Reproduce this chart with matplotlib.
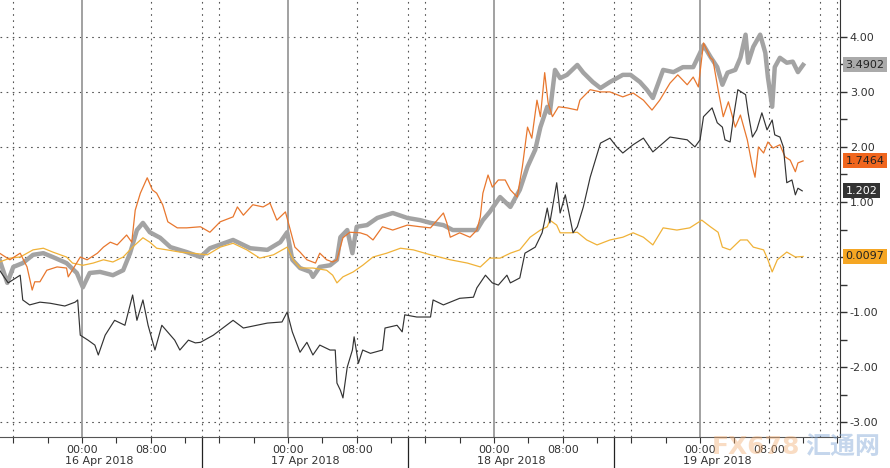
import matplotlib
matplotlib.use("Agg")
import matplotlib.pyplot as plt
import matplotlib.transforms as mtransforms

# hours relative to 16 Apr 2018 00:00, values in %
blk_h = [-9.6, -8.6, -7.2, -6.9, -6.1, -4.9, -3.7, -2.0, -0.8, -0.5, -0.2, 0.7, 1.5, 1.9, 2.7, 3.8,
         5.0, 5.9, 6.4, 7.1, 7.7, 8.5, 9.3, 10.3, 10.8, 11.4, 12.4, 13.2, 13.8, 15.3, 17.6, 18.8,
         21.6, 23.3, 23.9, 24.5, 25.4, 26.2, 26.9, 27.7, 28.9, 29.5, 29.7, 30.1, 30.4, 30.9, 31.5,
         31.7, 32.2, 32.7, 33.6, 35.0, 35.3, 36.7, 37.3, 37.6, 39.0, 40.6, 40.9, 42.1, 44.0, 45.6,
         46.0, 47.0, 47.8, 48.5, 49.5, 49.9, 51.0, 51.6, 52.8, 53.6, 54.2, 54.5, 55.3, 55.7, 56.3,
         56.9, 57.2, 57.7, 58.4, 59.2, 59.8, 60.4, 61.5, 62.3, 63.0, 64.2, 65.4, 66.5, 68.5, 70.5,
         71.4, 72.0, 72.4, 73.4, 74.0, 74.6, 74.9, 75.5, 75.9, 76.4, 77.3, 77.6, 78.1, 78.6, 79.2,
         79.8, 80.4, 80.7, 81.3, 81.7, 82.1, 82.7, 83.1, 83.4, 83.9]
blk_v = [-0.24, -0.47, -0.33, -0.78, -0.87, -0.82, -0.84, -0.89, -0.82, -0.78, -1.42, -1.51, -1.60,
         -1.78, -1.42, -1.15, -1.24, -0.69, -1.15, -0.78, -1.24, -1.69, -1.24, -1.42, -1.51, -1.69,
         -1.51, -1.56, -1.55, -1.42, -1.15, -1.29, -1.20, -1.18, -1.00, -1.36, -1.73, -1.55, -1.78,
         -1.60, -1.69, -1.69, -2.29, -2.42, -2.56, -2.00, -1.69, -1.45, -1.93, -1.69, -1.75, -1.69,
         -1.29, -1.24, -1.36, -1.05, -1.09, -1.09, -0.78, -0.87, -0.75, -0.73, -0.56, -0.33, -0.47,
         -0.51, -0.33, -0.47, -0.38, 0.07, 0.18, 0.44, 0.89, 0.62, 1.35, 0.80, 1.13, 0.67, 0.44,
         0.55, 0.91, 1.45, 1.76, 2.07, 2.16, 2.00, 1.89, 2.04, 2.16, 1.91, 2.18, 2.13, 2.00, 2.13,
         2.55, 2.71, 2.44, 2.36, 2.13, 2.09, 2.55, 3.04, 2.95, 2.62, 2.18, 2.31, 2.62, 2.31, 2.49,
         2.22, 2.18, 2.00, 1.35, 1.40, 1.13, 1.25, 1.202]

gry_h = [-9.6, -8.7, -8.0, -6.9, -5.7, -4.5, -3.4, -1.8, -0.6, 0.1, 0.9, 2.1, 3.6, 4.8, 5.6, 6.4,
         7.1, 7.9, 9.1, 10.3, 12.2, 13.8, 14.9, 17.6, 19.6, 21.6, 23.1, 23.9, 24.5, 25.4, 26.6,
         26.9, 27.7, 28.9, 29.7, 30.1, 30.9, 31.5, 32.0, 33.2, 34.4, 36.2, 37.9, 39.4, 40.6, 42.1,
         43.2, 44.9, 46.0, 46.7, 47.5, 48.7, 49.9, 51.0, 51.9, 52.8, 53.4, 54.2, 54.5, 55.1, 55.7,
         56.5, 57.7, 58.4, 59.5, 60.4, 61.5, 63.0, 63.9, 65.0, 65.8, 66.5, 67.7, 68.9, 70.0, 71.2,
         72.0, 72.4, 73.2, 74.0, 74.6, 75.2, 76.1, 76.7, 77.3, 77.6, 78.2, 79.0, 79.6, 79.9, 80.4,
         80.7, 81.3, 82.1, 82.8, 83.4, 84.0]
gry_v = [-0.05, -0.47, -0.18, -0.11, 0.04, 0.07, 0.00, -0.11, -0.29, -0.55, -0.29, -0.27, -0.33,
         -0.24, 0.07, 0.49, 0.62, 0.45, 0.35, 0.18, 0.09, 0.00, 0.16, 0.31, 0.16, 0.13, 0.27, 0.45,
         -0.05, -0.20, -0.27, -0.36, -0.18, -0.15, -0.05, 0.36, 0.49, 0.07, 0.55, 0.58, 0.71, 0.80,
         0.71, 0.67, 0.62, 0.58, 0.49, 0.49, 0.49, 0.67, 0.82, 1.09, 0.91, 1.22, 1.64, 1.95, 2.36,
         2.73, 2.62, 3.40, 3.25, 3.31, 3.49, 3.35, 3.18, 3.07, 3.18, 3.31, 3.31, 3.18, 3.04, 2.89,
         3.40, 3.36, 3.45, 3.45, 3.71, 3.85, 3.64, 3.45, 3.13, 3.35, 3.40, 3.62, 4.04, 3.53, 3.82,
         4.04, 3.71, 3.27, 2.73, 3.45, 3.62, 3.53, 3.55, 3.36, 3.4902]

org_h = [-9.6, -8.4, -7.2, -6.4, -5.8, -5.5, -4.9, -4.1, -2.9, -1.8, -1.6, -0.2, 0.6, 1.8, 2.5,
         3.3, 4.1, 5.2, 5.8, 6.2, 6.8, 7.6, 8.2, 8.7, 9.4, 10.0, 11.1, 12.2, 13.8, 14.9, 16.1, 17.6,
         18.1, 18.8, 19.9, 21.1, 21.9, 22.7, 23.7, 24.2, 24.8, 25.4, 26.2, 27.2, 27.7, 28.5, 29.2,
         29.7, 30.4, 31.2, 32.4, 33.2, 33.9, 35.0, 36.2, 37.9, 39.4, 40.6, 42.1, 42.5, 42.9, 44.0,
         45.2, 46.0, 46.4, 46.7, 47.3, 47.8, 48.5, 49.3, 49.9, 50.7, 51.3, 51.9, 52.4, 53.0, 53.4,
         53.9, 54.3, 54.8, 55.5, 56.5, 57.7, 58.0, 59.2, 60.4, 61.5, 63.0, 64.2, 65.4, 66.4, 67.3,
         68.5, 69.4, 70.5, 71.2, 71.8, 72.4, 73.2, 73.5, 74.1, 74.7, 75.3, 76.1, 76.7, 77.5, 78.1,
         78.4, 78.8, 79.4, 79.9, 80.5, 81.3, 81.9, 82.5, 83.1, 83.4, 84.0]
org_v = [0.07, -0.05, 0.07, -0.18, -0.60, -0.45, -0.45, -0.24, -0.18, -0.20, -0.36, 0.00, -0.05,
         0.07, 0.18, 0.27, 0.22, 0.40, 0.27, 0.85, 1.16, 1.44, 1.22, 1.16, 0.95, 0.64, 0.53, 0.53,
         0.55, 0.45, 0.64, 0.73, 0.91, 0.76, 0.95, 0.91, 0.98, 0.67, 0.82, 0.53, 0.18, 0.09, -0.05,
         -0.11, 0.07, -0.05, -0.09, -0.05, 0.35, 0.45, 0.44, 0.40, 0.31, 0.55, 0.49, 0.58, 0.55,
         0.53, 0.80, 0.62, 0.36, 0.44, 0.36, 0.49, 0.73, 1.16, 1.49, 1.27, 1.40, 1.40, 1.22, 1.09,
         1.64, 2.36, 2.16, 2.85, 2.55, 3.35, 2.80, 2.55, 2.73, 2.71, 2.67, 2.85, 3.04, 3.00, 3.00,
         2.91, 2.98, 2.85, 2.67, 2.85, 3.16, 3.31, 3.13, 3.27, 3.09, 3.89, 3.62, 3.58, 3.04, 2.55,
         2.82, 2.36, 2.58, 2.13, 1.64, 1.45, 2.00, 1.89, 2.09, 1.98, 2.04, 1.82, 1.76, 1.55, 1.71,
         1.7464]

gld_h = [-9.6, -8.4, -7.2, -5.7, -4.5, -3.4, -1.8, -1.1, 0.1, 1.3, 2.5, 3.6, 4.8, 5.9, 7.1, 7.9,
         8.7, 9.9, 11.4, 12.9, 14.6, 16.1, 17.6, 19.2, 20.7, 22.3, 23.9, 24.6, 25.4, 26.9, 28.5,
         29.2, 29.7, 30.4, 31.6, 32.7, 33.9, 35.5, 37.1, 38.6, 40.6, 42.9, 44.9, 46.4, 47.5, 48.7,
         49.9, 51.0, 52.2, 53.4, 54.2, 54.5, 55.3, 55.7, 56.9, 57.7, 58.8, 60.0, 61.5, 63.0, 64.2,
         65.4, 66.5, 67.7, 69.3, 70.8, 72.2, 73.2, 74.1, 74.6, 75.5, 76.7, 77.5, 78.2, 79.4, 79.9,
         80.4, 81.0, 82.1, 83.1, 84.0]
gld_v = [-0.09, -0.02, 0.00, 0.13, 0.16, 0.09, 0.00, -0.11, -0.15, -0.11, -0.05, -0.09, 0.00,
         0.18, 0.35, 0.27, 0.16, 0.13, 0.09, 0.07, 0.04, 0.18, 0.25, 0.13, -0.02, 0.04, 0.18,
         -0.05, -0.20, -0.20, -0.24, -0.33, -0.47, -0.36, -0.27, -0.15, 0.00, 0.07, 0.16, 0.13,
         0.04, -0.05, -0.11, -0.18, -0.02, -0.02, 0.07, 0.13, 0.36, 0.49, 0.55, 0.67, 0.58, 0.44,
         0.44, 0.45, 0.31, 0.22, 0.31, 0.36, 0.44, 0.36, 0.22, 0.53, 0.49, 0.53, 0.67, 0.55, 0.45,
         0.18, 0.13, 0.31, 0.31, 0.18, 0.13, -0.05, -0.27, -0.05, 0.09, 0.00, 0.0097]

yticks = [-3, -2, -1, 0, 1, 2, 3, 4]
day_names = ["16 Apr 2018", "17 Apr 2018", "18 Apr 2018", "19 Apr 2018"]
last_vals = ["3.4902", "1.7464", "1.202", "0.0097"]
last_y = [3.4902, 1.7464, 1.202, 0.0097]

fig = plt.figure(figsize=(8.9, 4.68), dpi=100)
ax = fig.add_axes([0, 1 - 437 / 468, 840 / 890, 437 / 468])
ax.set_xlim(-9.55, 88.3)
ax.set_ylim(-3.27, 4.67)

# grid: dotted at the y ticks, solid grey at 00:00, dotted at 08/14/16h
for v in yticks:
    ax.axhline(v, color="#555555", lw=0.8, ls=(0, (1.5, 4)), zorder=1)
for d in range(-1, 4):
    base = 24 * d
    ax.axvline(base, color="#9a9a9a", lw=1.3, zorder=1)
    for off in (8, 14, 16):
        ax.axvline(base + off, color="#555555", lw=0.8, ls=(0, (1.5, 4)), zorder=1)

# series
ax.plot(gry_h, gry_v, color="#a3a3a3", lw=3.2, zorder=3, solid_joinstyle="round")
ax.plot(gld_h, gld_v, color="#f0b238", lw=0.9, zorder=4)
ax.plot(org_h, org_v, color="#e8772e", lw=0.9, zorder=5)
ax.plot(blk_h, blk_v, color="#333333", lw=0.85, zorder=6)

# axes / ticks
for s in ("left", "top"):
    ax.spines[s].set_visible(False)
ax.spines["right"].set_color("#333333")
ax.spines["bottom"].set_color("#555555")
ax.yaxis.tick_right()
ax.set_yticks(yticks)
# 0.00 sits under the last-value tag in the reference
ax.set_yticklabels(["" if v == 0 else f"{v:.2f}" for v in yticks])
ax.set_yticks([v + 0.5 for v in yticks[:-1]], minor=True)
ax.tick_params(axis="y", which="both", direction="out", length=5, width=1, color="#333333",
               labelsize=8, labelcolor="#333333", pad=2)

major_x = [h for d in range(4) for h in (24 * d, 24 * d + 8)]
ax.set_xticks(major_x)
ax.set_xticklabels(["00:00", "08:00"] * 4)
ax.set_xticks([h for h in range(-8, 89, 4) if h not in major_x], minor=True)
ax.tick_params(axis="x", which="both", direction="out", length=4, width=0.8, color="#333333",
               labelsize=8, labelcolor="#333333", pad=2)

trans = mtransforms.blended_transform_factory(ax.transData, ax.transAxes)
for i, name in enumerate(day_names):
    ax.text(24 * i + 2, -0.055, name, transform=trans, ha="center", va="center",
            fontsize=8, color="#333333")
for h in (14, 38, 62):
    ax.plot([h, h], [0, -0.075], transform=trans, color="#222222", lw=0.9, clip_on=False)

# last value tags
tag_cols = [("#aaaaaa", "#222222"), ("#f0661e", "#222222"), ("#333333", "white"), ("#f5a623", "#222222")]
for val, y, (fc, tc) in zip(last_vals, last_y, tag_cols):
    ax.annotate(val, xy=(1, y), xycoords=("axes fraction", "data"), xytext=(4, 0),
                textcoords="offset points", ha="left", va="center", fontsize=8, color=tc,
                bbox=dict(boxstyle="square,pad=0.22", fc=fc, ec="none"), annotation_clip=False)

# watermark
fig.text(0.80, 0.045, "FX678", fontsize=18, fontweight="bold", color="#f3b27a", alpha=0.45,
         ha="left", va="center")
fig.text(0.905, 0.045, "汇通网", fontsize=18, fontweight="bold", color="#7fa6d6", alpha=0.45,
         ha="left", va="center", family=["Noto Sans CJK SC", "DejaVu Sans"])

fig.savefig("out.png", dpi=100)
